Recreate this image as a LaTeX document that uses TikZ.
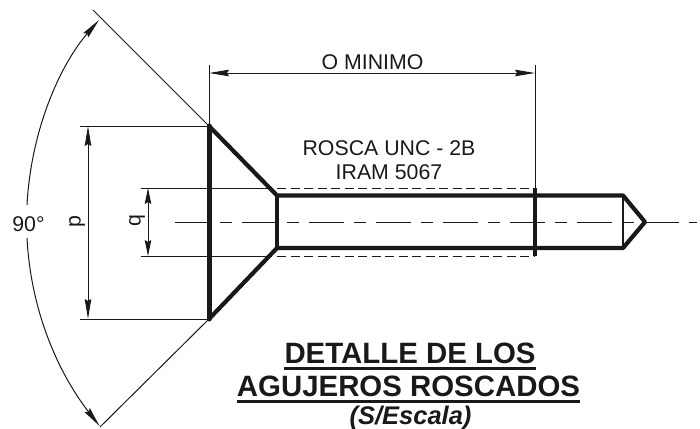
\documentclass[tikz,border=0pt]{standalone}
\usepackage{fontspec}
\setmainfont{Liberation Sans}
\usetikzlibrary{arrows.meta}
\tikzset{
  x=1pt,y=-1pt,
  thin line/.style={line width=1pt,draw=black!90},
  thick line/.style={line width=4.2pt,draw=black!90,line cap=round,line join=round},
  mid line/.style={line width=3.6pt,draw=black!90,line join=round},
  dim/.style={thin line,{Stealth[length=20pt,width=6.5pt,inset=2pt]}-{Stealth[length=20pt,width=6.5pt,inset=2pt]}},
  hidden/.style={thin line,dash pattern=on 9pt off 4.5pt},
  centre/.style={thin line,dash pattern=on 35pt off 10pt on 12pt off 10pt},
  lbl/.style={font=\fontsize{21.3pt}{25pt}\selectfont,text=black!90,inner sep=0pt},
  ttl/.style={font=\fontsize{29.4pt}{33pt}\selectfont\bfseries,text=black!90,inner sep=0pt,anchor=base},
  uline/.style={line width=3.2pt,draw=black!90}
}
\begin{document}
\begin{tikzpicture}
\useasboundingbox (0,0) rectangle (700,428);
% key points
\coordinate (A) at (209,126);
\coordinate (B) at (209,319);
\coordinate (C) at (277,195.5);
\coordinate (D) at (277,248);
\coordinate (E) at (623,195.5);
\coordinate (F) at (623,248);
\coordinate (G) at (645,222);
% centre line
\draw[centre] (175,222) -- (697,222);
% hidden thread lines
\draw[hidden] (277,188) -- (535,188);
\draw[hidden] (277,256) -- (535,256);
% extension lines
\draw[thin line] (80,126) -- (A);
\draw[thin line] (80,319) -- (B);
\draw[thin line] (141,188) -- (272,188);
\draw[thin line] (141,256) -- (272,256);
\draw[thin line] (209,65) -- (A);
\draw[thin line] (535,65) -- (535,188);
\draw[thin line] (93,10) -- (A);
\draw[thin line] (100,427) -- (B);
% dimensions
\draw[dim] (209,73) -- (535,73);
\draw[dim] (88,126) -- (88,319);
\draw[thin line,{Stealth[length=16pt,width=6.5pt,inset=2pt]}-{Stealth[length=16pt,width=6.5pt,inset=2pt]}] (148,188) -- (148,256);
% 90 degree arc
\coordinate (arcT) at (99,20);
\coordinate (arcTe) at (27,205);
\coordinate (arcBe) at (27,238);
\coordinate (arcB) at (99.5,426);
\draw[thin line,-{Stealth[length=20pt,width=6.5pt,inset=2pt]}] (arcTe) .. controls (31,130) and (60,65) .. (arcT);
\draw[thin line,-{Stealth[length=20pt,width=6.5pt,inset=2pt]}] (arcBe) .. controls (31,314) and (60,375) .. (arcB);
% outline
\draw[thick line,line width=5pt] (A) -- (B);
\draw[thick line] (A) -- (C) -- (E) -- (G) -- (F) -- (D) -- (B);
\draw[mid line] (C) -- (D);
\draw[mid line,line width=2.8pt] (E) -- (F);
\draw[line width=4.4pt,draw=black!90] (535,188) -- (535,256);
% labels
\node[lbl] (om) at (372.5,62.5) {O MINIMO};
\node[lbl] (r1) at (389,148) {ROSCA UNC - 2B};
\node[lbl] (r2) at (389,172.5) {IRAM 5067};
\node[lbl] (ang) at (28.5,224) {90°};
\node[lbl,rotate=90] (p) at (77,222) {p};
\node[lbl,rotate=90] (q) at (137,221) {q};
\node[ttl] (t1) at (410,363) {DETALLE DE LOS};
\node[ttl] (t2) at (408.5,396) {AGUJEROS ROSCADOS};
\node[lbl,anchor=base,font=\fontsize{25.5pt}{25pt}\selectfont\bfseries\itshape] (t3) at (410.5,424) {(S/Escala)};
\draw[uline] ([yshift=-5.5pt]t1.base west) -- ([yshift=-5.5pt]t1.base east);
\draw[uline] ([yshift=-5.5pt]t2.base west) -- ([yshift=-5.5pt]t2.base east);
\end{tikzpicture}
\end{document}
